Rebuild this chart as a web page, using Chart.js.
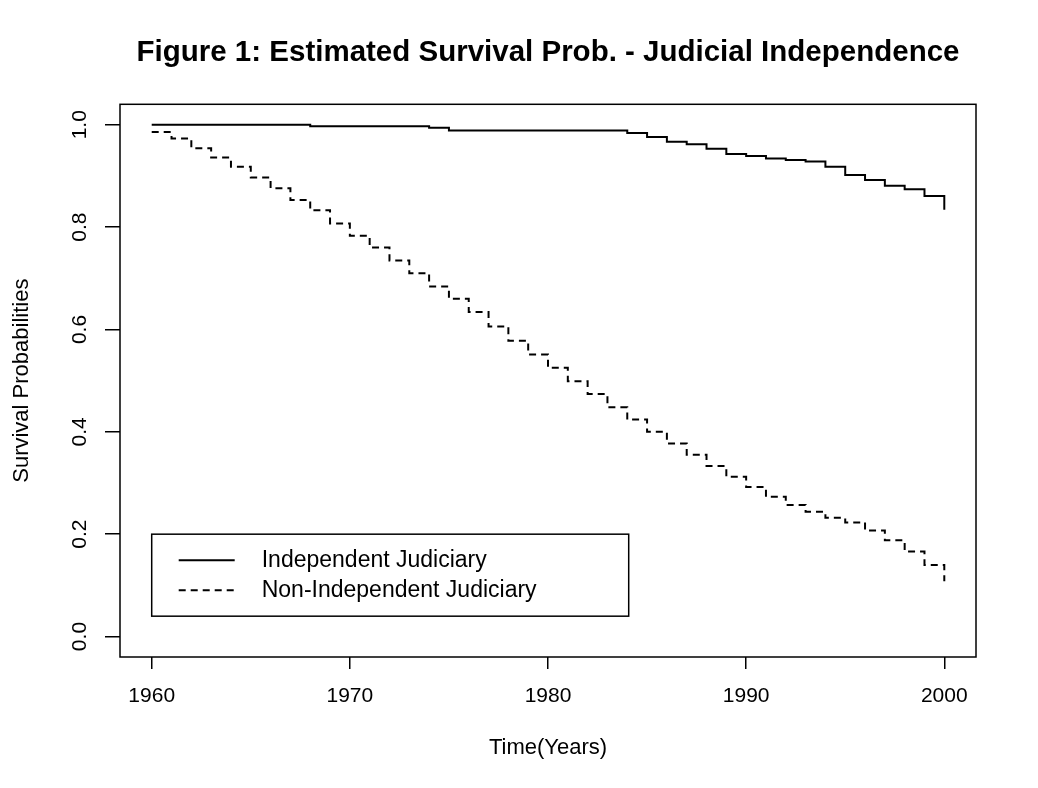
<!DOCTYPE html>
<html>
<head>
<meta charset="utf-8">
<script src="https://cdn.jsdelivr.net/npm/chart.js@4.4.1/dist/chart.umd.min.js"></script>
<style>
  html, body { margin: 0; padding: 0; background: #fff; }
  #wrap { width: 1038px; height: 788px; }
</style>
</head>
<body>
<div id="wrap"><canvas id="survChart"></canvas></div>
<script>
const FONT = '"Liberation Sans", Arial, sans-serif';

/* Kaplan-Meier estimates (value holds from that year on) */
const indepYears = [1960, 1968, 1974, 1975, 1984, 1985, 1986, 1987, 1988, 1989, 1990,
                    1991, 1992, 1993, 1994, 1995, 1996, 1997, 1998, 1999, 2000];
const indepSurv = [1.000, 0.997, 0.994, 0.989, 0.984, 0.976, 0.967, 0.962, 0.953, 0.943, 0.939,
                   0.934, 0.931, 0.928, 0.918, 0.902, 0.892, 0.881, 0.874, 0.861, 0.834];

const nonIndepYears = [1960, 1961, 1962, 1963, 1964, 1965, 1966, 1967, 1968, 1969,
                       1970, 1971, 1972, 1973, 1974, 1975, 1976, 1977, 1978, 1979,
                       1980, 1981, 1982, 1983, 1984, 1985, 1986, 1987, 1988, 1989,
                       1990, 1991, 1992, 1993, 1994, 1995, 1996, 1997, 1998, 1999, 2000];
const nonIndepSurv = [0.986, 0.973, 0.954, 0.936, 0.918, 0.897, 0.876, 0.853, 0.833, 0.807,
                      0.783, 0.760, 0.735, 0.710, 0.684, 0.660, 0.634, 0.606, 0.578, 0.551,
                      0.525, 0.499, 0.474, 0.448, 0.424, 0.400, 0.377, 0.355, 0.333, 0.312,
                      0.292, 0.273, 0.257, 0.244, 0.232, 0.223, 0.207, 0.188, 0.166, 0.140, 0.108];

const seriesLabels = ["Independent Judiciary", "Non-Independent Judiciary"];
const xTicks = [1960, 1970, 1980, 1990, 2000];
const yTicks = [0, 0.2, 0.4, 0.6, 0.8, 1.0];
const yTickLabels = ["0.0", "0.2", "0.4", "0.6", "0.8", "1.0"];

/* R style: box round the plot, upright y labels, legend inside */
const rStyle = {
    id: "rStyle",
    afterDraw(chart) {
        const { ctx, chartArea: a, scales: { x, y } } = chart;
        ctx.save();
        ctx.strokeStyle = "#000";
        ctx.fillStyle = "#000";
        ctx.lineWidth = 1.5;
        ctx.strokeRect(a.left, a.top, a.right - a.left, a.bottom - a.top);

        ctx.font = "21px " + FONT;
        ctx.textAlign = "center";
        ctx.textBaseline = "alphabetic";
        yTicks.forEach((v, i) => {
            ctx.save();
            ctx.translate(a.left - 34, y.getPixelForValue(v));
            ctx.rotate(-Math.PI / 2);
            ctx.fillText(yTickLabels[i], 0, 0);
            ctx.restore();
        });

        // legend box, top-left corner at (1960, 0.2)
        const lx = x.getPixelForValue(1960);
        const ly = y.getPixelForValue(0.2);
        ctx.lineWidth = 1.5;
        ctx.strokeRect(lx, ly, 477, 82);
        ctx.font = "23px " + FONT;
        ctx.textAlign = "left";
        ctx.textBaseline = "middle";
        chart.data.datasets.forEach((ds, i) => {
            const ry = ly + 26 + i * 30;
            ctx.lineWidth = ds.borderWidth;
            ctx.setLineDash(ds.borderDash || []);
            ctx.beginPath();
            ctx.moveTo(lx + 27, ry);
            ctx.lineTo(lx + 83, ry);
            ctx.stroke();
            ctx.setLineDash([]);
            ctx.fillText(ds.label, lx + 110, ry);
        });
        ctx.restore();
    }
};

const ctx = document.getElementById("survChart").getContext("2d");
new Chart(ctx, {
    type: "line",
    data: {
        datasets: [{
            label: seriesLabels[0],
            data: indepYears.map((yr, i) => ({ x: yr, y: indepSurv[i] })),
            borderColor: "#000",
            borderWidth: 2,
            stepped: "before",
            pointRadius: 0,
            fill: false
        }, {
            label: seriesLabels[1],
            data: nonIndepYears.map((yr, i) => ({ x: yr, y: nonIndepSurv[i] })),
            borderColor: "#000",
            borderWidth: 2,
            borderDash: [7, 5],
            stepped: "before",
            pointRadius: 0,
            fill: false
        }]
    },
    options: {
        responsive: true,
        maintainAspectRatio: false,
        animation: false,
        layout: { padding: { left: 0, right: 62, top: 0, bottom: 0 } },
        plugins: {
            legend: { display: false },
            tooltip: { enabled: false },
            title: {
                display: true,
                fullSize: false,
                text: "Figure 1: Estimated Survival Prob. - Judicial Independence",
                color: "#000",
                font: { family: FONT, size: 29.5, weight: "bold", lineHeight: 1.2 },
                padding: { top: 35, bottom: 33.9 }
            }
        },
        scales: {
            x: {
                type: "linear",
                min: 1958.4,
                max: 2001.6,
                afterBuildTicks: s => { s.ticks = xTicks.map(v => ({ value: v })); },
                afterFit: s => { s.height = 131; },
                grid: {
                    display: true,
                    drawOnChartArea: false,
                    drawTicks: true,
                    tickLength: 12,
                    color: "#000",
                    lineWidth: 1.5
                },
                border: { display: false },
                ticks: {
                    color: "#000",
                    font: { family: FONT, size: 21 },
                    padding: 15,
                    maxRotation: 0,
                    callback: v => String(v)
                },
                title: {
                    display: true,
                    text: "Time(Years)",
                    color: "#000",
                    font: { family: FONT, size: 22 },
                    padding: { top: 0, bottom: 27 }
                }
            },
            y: {
                type: "linear",
                min: -0.04,
                max: 1.04,
                afterBuildTicks: s => { s.ticks = yTicks.map(v => ({ value: v })); },
                afterFit: s => { s.width = 120; },
                grid: {
                    display: true,
                    drawOnChartArea: false,
                    drawTicks: true,
                    tickLength: 15,
                    color: "#000",
                    lineWidth: 1.5
                },
                border: { display: false },
                ticks: { display: false },
                title: {
                    display: true,
                    text: "Survival Probabilities",
                    color: "#000",
                    font: { family: FONT, size: 22 },
                    padding: { top: 9, bottom: 0 }
                }
            }
        }
    },
    plugins: [rStyle]
});
</script>
</body>
</html>
